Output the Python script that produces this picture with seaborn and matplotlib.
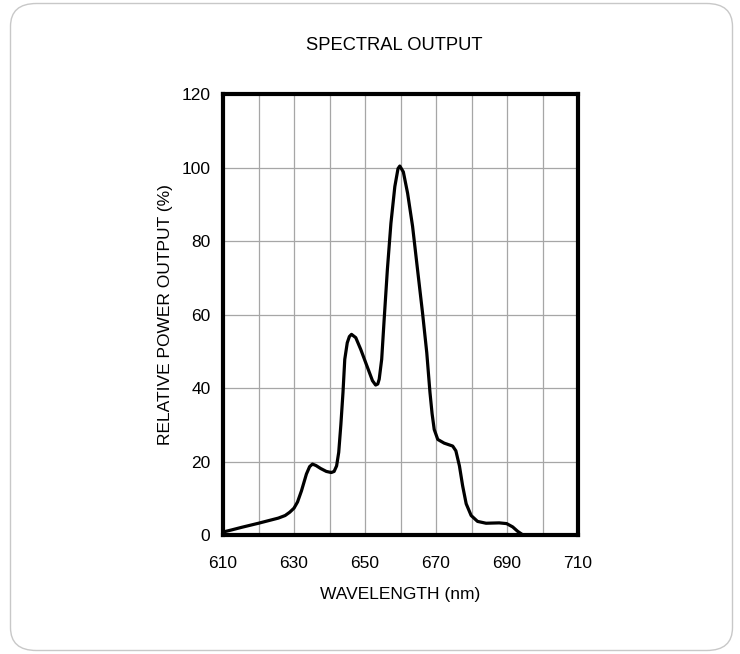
import matplotlib
matplotlib.use("Agg")
import matplotlib.pyplot as plt
import seaborn as sns
import pandas as pd
from matplotlib.patches import FancyBboxPatch

# ---- data ----
wavelength_nm = [610.0, 612.5, 615.3, 620.0, 625.6, 627.5, 628.8, 630.0, 631.0, 632.1,
                 633.5, 634.4, 635.2, 636.2, 637.5, 639.1, 640.5, 641.3, 642.0, 642.6,
                 643.2, 643.8, 644.3, 645.0, 645.6, 646.2, 647.4, 648.8, 650.7, 652.1,
                 653.0, 653.6, 654.0, 654.7, 655.4, 656.3, 657.3, 658.4, 659.3, 659.8,
                 660.8, 662.0, 663.4, 664.8, 666.2, 667.4, 668.3, 668.9, 669.5, 670.5,
                 672.3, 674.7, 675.6, 676.6, 677.5, 678.5, 679.9, 681.7, 684.1, 687.8,
                 689.9, 691.6, 693.0, 693.9, 694.5]
relative_output = [0.8, 1.4, 2.1, 3.2, 4.6, 5.3, 6.2, 7.3, 9.0, 12.0,
                   16.6, 18.6, 19.3, 18.9, 18.1, 17.3, 17.0, 17.3, 18.8, 22.5,
                   30.0, 38.8, 47.8, 52.3, 54.0, 54.6, 53.7, 50.5, 45.6, 42.0,
                   40.8, 41.1, 42.4, 47.8, 58.7, 72.2, 84.8, 94.8, 99.7, 100.4,
                   98.8, 93.0, 84.0, 72.2, 60.5, 49.6, 38.8, 33.0, 28.7, 26.0,
                   25.0, 24.2, 22.9, 18.8, 13.4, 8.5, 5.3, 3.7, 3.2, 3.3,
                   3.1, 2.2, 1.0, 0.4, 0.0]
x_ticks = [610, 620, 630, 640, 650, 660, 670, 680, 690, 700, 710]
x_tick_labels = ["610", "", "630", "", "650", "", "670", "", "690", "", "710"]
y_ticks = [0, 20, 40, 60, 80, 100, 120]
y_tick_labels = ["0", "20", "40", "60", "80", "100", "120"]
title = "SPECTRAL OUTPUT"
x_label = "WAVELENGTH (nm)"
y_label = "RELATIVE POWER OUTPUT (%)"

df = pd.DataFrame({"wavelength": wavelength_nm, "output": relative_output})

sns.set_theme(style="white")
plt.rcParams["font.family"] = ["Liberation Sans", "DejaVu Sans"]

fig = plt.figure(figsize=(7.40, 6.54), dpi=100)
fig.patch.set_facecolor("white")

# rounded card border
card = FancyBboxPatch((10.5 / 740, 3.5 / 654), (722 / 740), (647 / 654),
                      boxstyle="round,pad=0,rounding_size=0.035",
                      transform=fig.transFigure, facecolor="none",
                      edgecolor="#c8c8c8", linewidth=1.0, zorder=-1)
fig.patches.append(card)

ax = fig.add_axes([223 / 740, 1 - 535 / 654, (578 - 223) / 740, (535 - 94) / 654])
ax.set_facecolor("white")

sns.lineplot(data=df, x="wavelength", y="output", ax=ax, color="black",
             linewidth=2.3, sort=False, estimator=None, zorder=3,
             solid_joinstyle="round", solid_capstyle="round")

ax.set_xlim(610, 710)
ax.set_ylim(0, 120)
ax.set_xticks(x_ticks)
ax.set_xticklabels(x_tick_labels)
ax.set_yticks(y_ticks)
ax.set_yticklabels(y_tick_labels)
ax.grid(True, color="#a6a6a6", linewidth=0.9)
ax.set_axisbelow(True)
ax.tick_params(axis="both", length=0, labelsize=12.5, colors="black")
ax.tick_params(axis="x", pad=15)
ax.tick_params(axis="y", pad=9)
for sp in ax.spines.values():
    sp.set_visible(True)
    sp.set_color("black")
    sp.set_linewidth(3.0)

ax.set_xlabel(x_label, fontsize=12.5, labelpad=12, color="black")
ax.set_ylabel(y_label, fontsize=12.5, labelpad=6, color="black")
fig.text(394 / 740, 1 - 45 / 654, title, ha="center", va="center",
         fontsize=13.2, color="black")

fig.savefig("out.png", dpi=100, facecolor="white")
